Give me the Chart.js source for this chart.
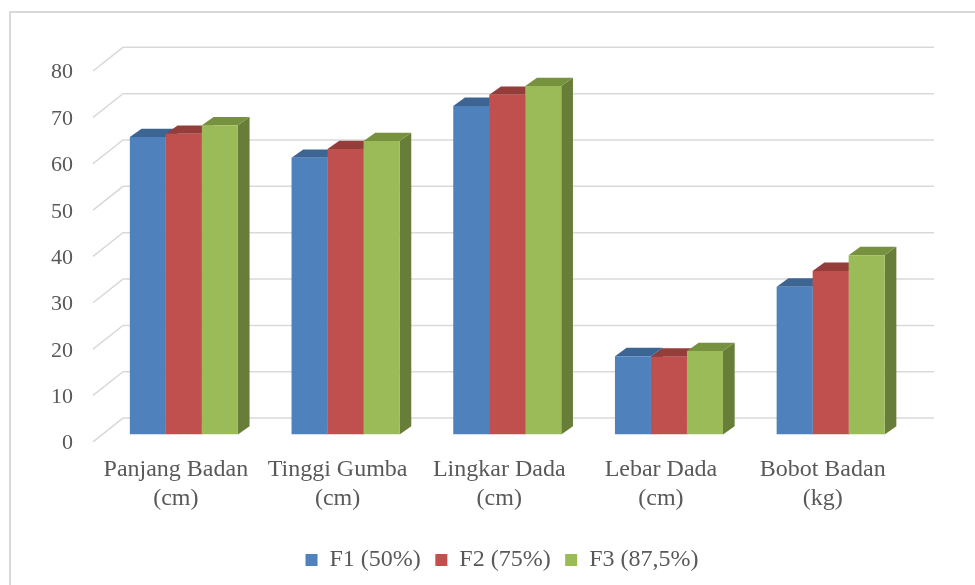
<!DOCTYPE html>
<html>
<head>
<meta charset="utf-8">
<script src="https://cdn.jsdelivr.net/npm/chart.js@4"></script>
<style>
	body { margin: 0; background: #fff; }
	#frame { position: absolute; left: 9px; top: 11px; width: 1000px; height: 600px; border: 2px solid #d9d9d9; }
	#bar-chart-ukuran { position: absolute; left: 0; top: 0; }
</style>
</head>
<body>
<div id="frame"></div>
<canvas id="bar-chart-ukuran" width="975" height="585"></canvas>
<script>
"use strict";

const categories = [
	["Panjang Badan", "(cm)"],
	["Tinggi Gumba", "(cm)"],
	["Lingkar Dada", "(cm)"],
	["Lebar Dada", "(cm)"],
	["Bobot Badan", "(kg)"]
];
const seriesNames = ["F1 (50%)", "F2 (75%)", "F3 (87,5%)"];
const f1Values = [64.2, 59.7, 70.9, 16.9, 31.9];
const f2Values = [64.9, 61.6, 73.3, 16.8, 35.3];
const f3Values = [66.7, 63.3, 75.2, 18.0, 38.7];
const yTicks = [0, 10, 20, 30, 40, 50, 60, 70, 80];

const frontColors = ["#4f81bd", "#c0504d", "#9bbb59"];
const topColors = ["#3d6594", "#943d3a", "#77923f"];
const sideColors = ["#385d8a", "#8c3836", "#677d38"];

const textColor = "#595959";
const serif = "'Liberation Serif', 'Times New Roman', serif";

// depth of the bars and of the back wall, in pixels
const barDepth = { dx: 11.7, dy: 8.3 };
const wallDepth = { dx: 20, dy: 16.4 };

const fake3d = {
	id: "fake3d",
	beforeDatasetsDraw(chart) {
		const ctx = chart.ctx;
		const area = chart.chartArea;
		const y = chart.scales.y;

		// back wall gridlines with the little diagonal in front
		ctx.save();
		ctx.strokeStyle = "#d9d9d9";
		ctx.lineWidth = 1.5;
		yTicks.forEach(v => {
			const p = y.getPixelForValue(v);
			ctx.beginPath();
			ctx.moveTo(area.left - 10, p + 7.3);
			ctx.lineTo(area.left + wallDepth.dx, p - wallDepth.dy);
			ctx.lineTo(area.right + 22.5, p - wallDepth.dy);
			ctx.stroke();
		});

		// top and side faces, the fronts are drawn by chart.js after this
		const nSets = chart.data.datasets.length;
		for (let d = 0; d < nSets; d++) {
			const meta = chart.getDatasetMeta(d);
			meta.data.forEach(bar => {
				const left = bar.x - bar.width / 2;
				const right = bar.x + bar.width / 2;
				const top = bar.y;
				const base = bar.base;

				ctx.fillStyle = sideColors[d];
				ctx.beginPath();
				ctx.moveTo(right, top);
				ctx.lineTo(right + barDepth.dx, top - barDepth.dy);
				ctx.lineTo(right + barDepth.dx, base - barDepth.dy);
				ctx.lineTo(right, base);
				ctx.closePath();
				ctx.fill();

				ctx.fillStyle = topColors[d];
				ctx.beginPath();
				ctx.moveTo(left, top);
				ctx.lineTo(left + barDepth.dx, top - barDepth.dy);
				ctx.lineTo(right + barDepth.dx, top - barDepth.dy);
				ctx.lineTo(right, top);
				ctx.closePath();
				ctx.fill();
			});
		}
		ctx.restore();
	}
};

const ctx = document.querySelector("#bar-chart-ukuran").getContext("2d");
new Chart(ctx, {
	type: "bar",
	data: {
		labels: categories,
		datasets: [
			{ label: seriesNames[0], data: f1Values, backgroundColor: frontColors[0] },
			{ label: seriesNames[1], data: f2Values, backgroundColor: frontColors[1] },
			{ label: seriesNames[2], data: f3Values, backgroundColor: frontColors[2] }
		]
	},
	options: {
		responsive: false,
		animation: false,
		layout: { padding: { top: 63.7, right: 0, bottom: 3, left: 29 } },
		datasets: {
			bar: { categoryPercentage: 0.668, barPercentage: 1, borderWidth: 0 }
		},
		scales: {
			x: {
				grid: { display: false, drawTicks: false },
				border: { display: false },
				ticks: {
					color: textColor,
					font: { family: serif, size: 24 },
					padding: 21,
					labelOffset: -8,
					maxRotation: 0,
					autoSkip: false
				},
				afterFit(scale) { scale.height = 99; }
			},
			y: {
				min: 0,
				max: 80,
				grid: { display: false, drawTicks: false },
				border: { display: false },
				ticks: {
					stepSize: 10,
					color: textColor,
					font: { family: serif, size: 22 },
					padding: 30,
					labelOffset: 9
				},
				afterFit(scale) { scale.width = 74; }
			},
			// empty axis, only keeps room on the right side
			spacer: {
				position: "right",
				min: 0,
				max: 1,
				grid: { display: false, drawTicks: false },
				border: { display: false },
				ticks: { display: false },
				afterFit(scale) { scale.width = 63.5; }
			}
		},
		plugins: {
			legend: {
				position: "bottom",
				labels: {
					color: textColor,
					font: { family: serif, size: 24 },
					boxWidth: 12,
					boxHeight: 12,
					padding: 14.5
				}
			},
			tooltip: { enabled: false }
		}
	},
	plugins: [fake3d]
});
</script>
</body>
</html>
